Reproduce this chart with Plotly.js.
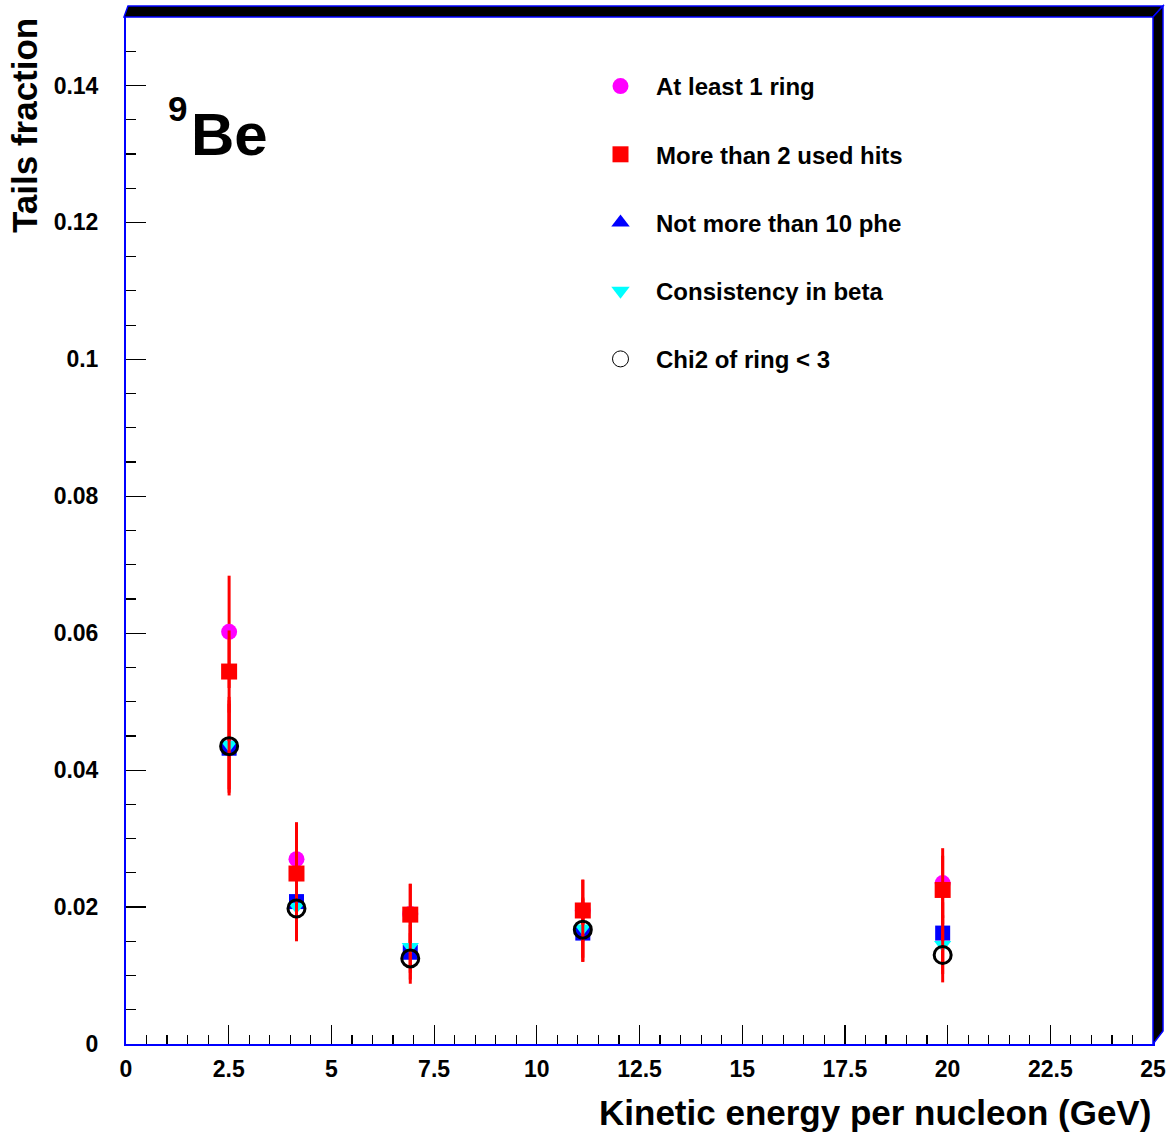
<!DOCTYPE html>
<html>
<head>
<meta charset="utf-8">
<script src="https://cdn.plot.ly/plotly-3.0.1.min.js"></script>
<style>
  html, body { margin: 0; padding: 0; background: #ffffff; }
  #chart { width: 1173px; height: 1133px; }
</style>
</head>
<body>
<div id="chart"></div>
<script>
// Kinetic energy per nucleon bins (GeV)
const energy = [2.51, 4.15, 6.92, 11.12, 19.88];

// Tails fraction for each selection cut, with statistical errors
const atLeastOneRing      = [0.0602, 0.0270, 0.0190, 0.0195, 0.0235];
const atLeastOneRingErr   = [0.0082, 0.0054, 0.0044, 0.0045, 0.0051];

const moreThan2UsedHits    = [0.0544, 0.0249, 0.0189, 0.0195, 0.0225];
const moreThan2UsedHitsErr = [0.0060, 0.0050, 0.0045, 0.0045, 0.0050];

const notMoreThan10Phe    = [0.0432, 0.0208, 0.0134, 0.0162, 0.0162];
const notMoreThan10PheErr = [0.0065, 0.0048, 0.0040, 0.0042, 0.0045];

const consistencyInBeta    = [0.0437, 0.0201, 0.0142, 0.0169, 0.0145];
const consistencyInBetaErr = [0.0065, 0.0048, 0.0038, 0.0043, 0.0043];

const chi2OfRing    = [0.0435, 0.0198, 0.0125, 0.0167, 0.0130];
const chi2OfRingErr = [0.0072, 0.0048, 0.0037, 0.0047, 0.0040];

const seriesNames = [
  'At least 1 ring',
  'More than 2 used hits',
  'Not more than 10 phe',
  'Consistency in beta',
  'Chi2 of ring < 3'
];

const FONT = 'Liberation Sans, Arial, Helvetica, sans-serif';
const ERR_COLOR = '#ff0000';

function errBars(arr) {
  return { type: 'data', array: arr, visible: true, color: ERR_COLOR, thickness: 3, width: 0 };
}

// Data traces (points with error bars)
const dataTraces = [
  { y: atLeastOneRing, err: atLeastOneRingErr,
    marker: { symbol: 'circle', size: 16, color: '#ff00ff' } },
  { y: moreThan2UsedHits, err: moreThan2UsedHitsErr,
    marker: { symbol: 'square', size: 16, color: '#ff0000' } },
  { y: notMoreThan10Phe, err: notMoreThan10PheErr,
    marker: { symbol: 'square', size: 15, color: '#0000ff' } },
  { y: consistencyInBeta, err: consistencyInBetaErr,
    marker: { symbol: 'triangle-down', size: 15, color: '#00ffff' } },
  { y: chi2OfRing, err: chi2OfRingErr,
    marker: { symbol: 'circle-open', size: 17, color: '#000000', line: { width: 3, color: '#000000' } } }
].map((s, i) => ({
  type: 'scatter',
  mode: 'markers',
  x: energy,
  y: s.y,
  error_y: errBars(s.err),
  marker: s.marker,
  name: seriesNames[i],
  legendgroup: 'g' + i,
  showlegend: false,
  hoverinfo: 'x+y'
}));

// Legend keys
const legendMarkers = [
  { symbol: 'circle', size: 16, color: '#ff00ff' },
  { symbol: 'square', size: 16, color: '#ff0000' },
  { symbol: 'triangle-up', size: 16, color: '#0000ff' },
  { symbol: 'triangle-down', size: 16, color: '#00ffff' },
  { symbol: 'circle-open', size: 16, color: '#000000', line: { width: 1, color: '#000000' } }
];
const legendTraces = legendMarkers.map((m, i) => ({
  type: 'scatter',
  mode: 'markers',
  x: [null],
  y: [null],
  marker: m,
  name: seriesNames[i],
  legendgroup: 'g' + i,
  showlegend: true,
  hoverinfo: 'skip'
}));

// Plot frame in pixels: left 126, right 1153, top 17, bottom 1044
const W = 1173, H = 1133;
const L = 126, R = 1153, T = 17, B = 1044;
const pw = R - L, ph = B - T;
const px = v => (v - L) / pw;
const py = v => (B - v) / ph;

// Raised frame edge along the top and right sides
const bevelTop = `M ${px(124)} ${py(17)} L ${px(128)} ${py(6)} L ${px(1163)} ${py(6)} L ${px(1153)} ${py(17)} Z`;
const bevelRight = `M ${px(1153)} ${py(17)} L ${px(1163)} ${py(6)} L ${px(1163)} ${py(1031)} L ${px(1153)} ${py(1044)} Z`;

const layout = {
  width: W,
  height: H,
  margin: { l: L, r: W - R, t: T, b: H - B, pad: 0 },
  paper_bgcolor: '#ffffff',
  plot_bgcolor: '#ffffff',
  font: { family: FONT, color: '#000000', size: 22, weight: 'bold' },
  showlegend: true,
  legend: {
    x: px(585),
    y: py(64),
    xanchor: 'left',
    yanchor: 'top',
    bgcolor: 'rgba(0,0,0,0)',
    borderwidth: 0,
    font: { family: FONT, size: 24, color: '#000000', weight: 'bold' },
    tracegroupgap: 34,
    itemwidth: 61,
    itemclick: false,
    itemdoubleclick: false
  },
  xaxis: {
    range: [0, 25],
    dtick: 2.5,
    tick0: 0,
    ticks: 'inside',
    ticklen: 19,
    tickwidth: 1.2,
    tickcolor: '#000000',
    minor: { dtick: 0.5, ticks: 'inside', ticklen: 9, tickwidth: 1.2, tickcolor: '#000000' },
    showline: true,
    linecolor: '#0000ff',
    linewidth: 2,
    mirror: true,
    showgrid: false,
    zeroline: false,
    ticklabelstandoff: 3,
    tickfont: { family: FONT, size: 23, color: '#000000', weight: 'bold' },
    fixedrange: true
  },
  yaxis: {
    range: [0, 0.15],
    dtick: 0.02,
    tick0: 0,
    ticks: 'inside',
    ticklen: 20,
    tickwidth: 1.2,
    tickcolor: '#000000',
    minor: { dtick: 0.005, ticks: 'inside', ticklen: 10, tickwidth: 1.2, tickcolor: '#000000' },
    showline: true,
    linecolor: '#0000ff',
    linewidth: 2,
    mirror: true,
    showgrid: false,
    zeroline: false,
    ticklabelstandoff: 21,
    tickfont: { family: FONT, size: 23, color: '#000000', weight: 'bold' },
    fixedrange: true
  },
  shapes: [
    { type: 'path', xref: 'paper', yref: 'paper', path: bevelTop,
      fillcolor: '#000000', line: { color: '#0000ff', width: 1.5 } },
    { type: 'path', xref: 'paper', yref: 'paper', path: bevelRight,
      fillcolor: '#000000', line: { color: '#0000ff', width: 1.5 } }
  ],
  annotations: [
    // Axis titles
    { xref: 'paper', yref: 'paper', x: 1, y: py(1112), xanchor: 'right', yanchor: 'middle',
      text: 'Kinetic energy per nucleon (GeV)', showarrow: false,
      font: { family: FONT, size: 35, color: '#000000', weight: 'bold' } },
    { xref: 'paper', yref: 'paper', x: px(24), y: py(126), xanchor: 'center', yanchor: 'middle',
      textangle: -90, text: 'Tails fraction', showarrow: false,
      font: { family: FONT, size: 35, color: '#000000', weight: 'bold' } },
    // Nucleus label
    { xref: 'paper', yref: 'paper', x: px(166), y: py(108), xanchor: 'left', yanchor: 'middle',
      text: '9', showarrow: false,
      font: { family: FONT, size: 35, color: '#000000', weight: 'bold' } },
    { xref: 'paper', yref: 'paper', x: px(189), y: py(134), xanchor: 'left', yanchor: 'middle',
      text: 'Be', showarrow: false,
      font: { family: FONT, size: 60, color: '#000000', weight: 'bold' } }
  ]
};

Plotly.newPlot('chart', dataTraces.concat(legendTraces), layout, { displayModeBar: false, staticPlot: true });
</script>
</body>
</html>
